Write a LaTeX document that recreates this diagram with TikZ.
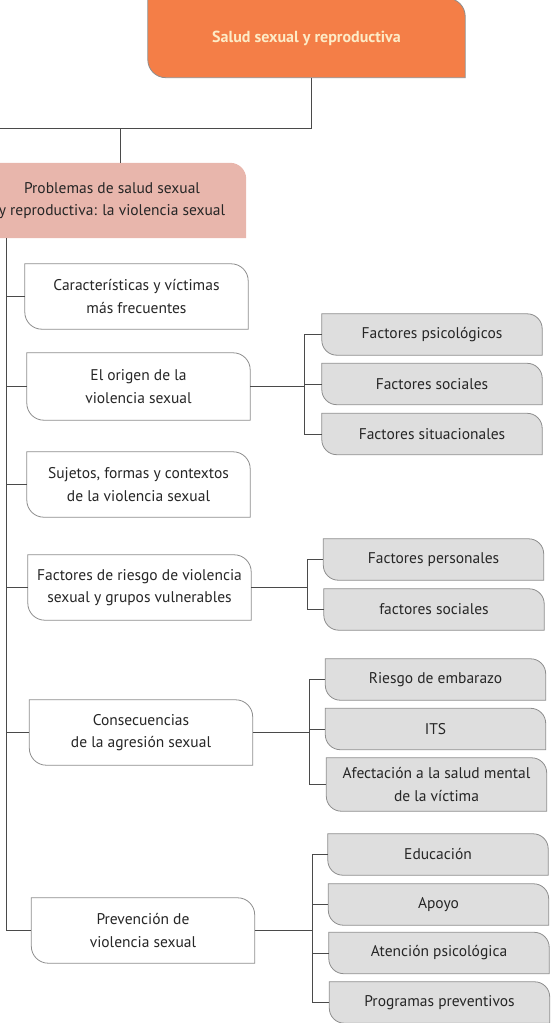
\documentclass[tikz,border=0pt]{standalone}
\usepackage{fontspec}
\setmainfont{PT Sans}
\usetikzlibrary{backgrounds,calc}
\definecolor{orangefill}{HTML}{F47E47}
\definecolor{orangetext}{HTML}{FDEBC6}
\definecolor{pinkfill}{HTML}{E8B6AC}
\definecolor{grayfill}{HTML}{DEDEDE}
\definecolor{boxline}{HTML}{8E8E8E}
\definecolor{linkline}{HTML}{4A4A4A}
\tikzset{
  x=1pt, y=-1pt,
  txt/.style={align=center, inner sep=0pt, font=\fontsize{15.5}{22.5}\selectfont, text=black!85},
  whitebox/.style={txt, minimum width=223pt, minimum height=65pt},
  graybox/.style={txt, minimum width=220pt, minimum height=41pt},
  link/.style={draw=linkline, line width=0.8pt},
  frame/.style={draw=boxline, line width=0.8pt},
}
% draw shape with rounded top-right and bottom-left corners behind node #2
\newcommand{\slantbox}[3][16]{%
  \path[frame, fill=#3] (#2.north west) -- ([xshift=-#1pt]#2.north east)
    arc[start angle=90, end angle=0, radius=#1pt] -- (#2.south east)
    -- ([xshift=#1pt]#2.south west) arc[start angle=270, end angle=180, radius=#1pt] -- cycle;}
\begin{document}
\begin{tikzpicture}
\useasboundingbox (0,0) rectangle (552,1023);

% top level
\node[txt, minimum width=317pt, minimum height=79pt, text=orangetext,
      font=\fontsize{16}{19}\selectfont\bfseries] (top) at (306.5,38) {Salud sexual y reproductiva};
\node[txt, minimum width=268pt, minimum height=75pt] (pink) at (112,200.5)
  {Problemas de salud sexual\\y reproductiva: la violencia sexual};

% second level
\node[whitebox] (car) at (136.5,296.5) {Características y víctimas\\más frecuentes};
\node[whitebox, minimum height=67pt] (ori) at (138.5,386.5) {El origen de la\\violencia sexual};
\node[whitebox] (suj) at (138.5,484.5) {Sujetos, formas y contextos\\de la violencia sexual};
\node[whitebox] (fac) at (139.5,587.5) {Factores de riesgo de violencia\\sexual y grupos vulnerables};
\node[whitebox] (con) at (141,732.5) {Consecuencias\\de la agresión sexual};
\node[whitebox] (pre) at (143,930.5) {Prevención de\\violencia sexual};

% third level
\node[graybox] (psi) at (432,334.5) {Factores psicológicos};
\node[graybox] (soc) at (432,384) {Factores sociales};
\node[graybox] (sit) at (432,434) {Factores situacionales};
\node[graybox] (per) at (433.5,559.5) {Factores personales};
\node[graybox] (socb) at (434,609.5) {factores sociales};
\node[graybox] (emb) at (435.5,679.5) {Riesgo de embarazo};
\node[graybox] (its) at (435.5,729) {ITS};
\node[graybox, minimum height=53pt] (afe) at (436.5,784.5) {Afectación a la salud mental\\de la víctima};
\node[graybox] (edu) at (438,854.5) {Educación};
\node[graybox] (apo) at (438.5,904.5) {Apoyo};
\node[graybox] (ate) at (439,953) {Atención psicológica};
\node[graybox] (pro) at (439.5,1002.5) {Programas preventivos};

% junction coordinates
\coordinate (j0) at (311,128);
\coordinate (jl) at (0,128);
\coordinate (j1) at (120,128);
\coordinate (tr) at (6,0);
\coordinate (b1) at (304,0);
\coordinate (b2) at (307,0);
\coordinate (b3) at (309,0);
\coordinate (b4) at (312,0);

\begin{scope}[on background layer]
  \slantbox[18]{top}{orangefill}
  \path[fill=pinkfill] (pink.north west) -- ([xshift=-16pt]pink.north east)
    arc[start angle=90, end angle=0, radius=16pt] -- (pink.south east) -- (pink.south west) -- cycle;
  \foreach \n in {car,ori,suj,fac,con,pre} {\slantbox[17]{\n}{white}}
  \foreach \n in {psi,soc,sit,per,socb,emb,its,afe,edu,apo,ate,pro} {\slantbox[15]{\n}{grayfill}}

  % connectors
  \draw[link] (top.south -| j0) -- (j0) -- (jl);
  \draw[link] (j1) -- (j1 |- pink.north);
  \draw[link] (tr |- pink.south) -- (tr |- pre.west) -- (pre.west);
  \foreach \n in {car,ori,suj,fac,con} {\draw[link] (tr |- \n.west) -- (\n.west);}

  \draw[link] (ori.east) -- (b1 |- ori.east);
  \draw[link] (b1 |- psi.west) -- (b1 |- sit.west);
  \foreach \n in {psi,soc,sit} {\draw[link] (b1 |- \n.west) -- (\n.west);}

  \draw[link] (fac.east) -- (b2 |- fac.east);
  \draw[link] (b2 |- per.west) -- (b2 |- socb.west);
  \foreach \n in {per,socb} {\draw[link] (b2 |- \n.west) -- (\n.west);}

  \draw[link] (con.east) -- (b3 |- con.east);
  \draw[link] (b3 |- emb.west) -- (b3 |- afe.west);
  \foreach \n in {emb,its,afe} {\draw[link] (b3 |- \n.west) -- (\n.west);}

  \draw[link] (pre.east) -- (b4 |- pre.east);
  \draw[link] (b4 |- edu.west) -- (b4 |- pro.west);
  \foreach \n in {edu,apo,ate,pro} {\draw[link] (b4 |- \n.west) -- (\n.west);}
\end{scope}
\end{tikzpicture}
\end{document}
